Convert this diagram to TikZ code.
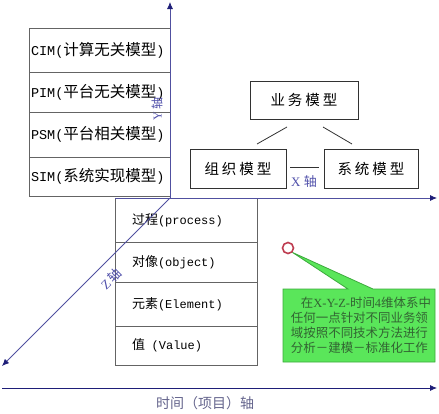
\documentclass[tikz,border=0pt]{standalone}
\usepackage{fontspec}
\setmainfont{Liberation Serif}
\newfontfamily\cjk{Noto Sans CJK SC}
\newfontfamily\mono{Liberation Mono}
\usetikzlibrary{arrows.meta}
\definecolor{axisline}{RGB}{80,80,160}
\definecolor{axistip}{RGB}{30,30,120}
\definecolor{axislabel}{RGB}{80,80,170}
\definecolor{timelabel}{RGB}{100,100,140}
\definecolor{tableline}{RGB}{100,100,100}
\definecolor{boxline}{RGB}{50,50,50}
\definecolor{notefill}{RGB}{90,230,90}
\definecolor{noteline}{RGB}{60,170,60}
\definecolor{notetext}{RGB}{50,100,50}
\definecolor{ringred}{RGB}{190,60,80}
\newcommand\um[1]{{\fontsize{13.5}{16}\mono #1}}
\newcommand\uc[1]{{\fontsize{15.5}{18}\cjk #1}}
\newcommand\lm[1]{{\fontsize{12}{15}\mono #1}}
\newcommand\lc[1]{{\fontsize{13}{15}\cjk #1}}
\begin{document}
\begin{tikzpicture}[x=1pt,y=-1pt,
  uprow/.style={draw=tableline, line width=0.8pt, minimum width=141pt,
    text width=137pt, inner xsep=2pt, inner ysep=0pt, align=left},
  lowrow/.style={draw=tableline, line width=0.8pt, minimum width=142pt,
    text width=108pt, inner xsep=17pt, inner ysep=0pt, align=left},
  bizbox/.style={draw=boxline, line width=0.8pt, minimum height=38pt,
    inner sep=0pt, font=\fontsize{14.5}{16}\cjk},
  axis/.style={axisline, line width=0.8pt,
    -{Latex[length=7pt,width=6pt,color=axistip]}},
  plainline/.style={draw=boxline, line width=0.8pt},
  axislbl/.style={text=axislabel, inner sep=0pt}]
\useasboundingbox (0,0) rectangle (439,413);

% upper table
\node[uprow, minimum height=44pt] (cim) at (99.5,50) {\um{CIM(}\uc{计算无关模型}\um{)}};
\node[uprow, minimum height=40pt] (pim) at (99.5,92) {\um{PIM(}\uc{平台无关模型}\um{)}};
\node[uprow, minimum height=45pt] (psm) at (99.5,134.5) {\um{PSM(}\uc{平台相关模型}\um{)}};
\node[uprow, minimum height=39pt] (sim) at (99.5,176.5) {\um{SIM(}\uc{系统实现模型}\um{)}};

% lower table
\node[lowrow, minimum height=44pt] (proc) at (186,220) {\lc{过程}\lm{(process)}};
\node[lowrow, minimum height=40pt] (obj) at (186,262) {\lc{对像}\lm{(object)}};
\node[lowrow, minimum height=44pt] (elem) at (186,304) {\lc{元素}\lm{(Element)}};
\node[lowrow, minimum height=39pt] (val) at (186,345.5) {\lc{值}\lm{~~(Value)}};

% business model boxes
\node[bizbox, minimum width=108pt] (biz) at (304,100) {业\hspace{3pt}务\hspace{3pt}模\hspace{3pt}型};
\node[bizbox, minimum width=96pt, minimum height=39pt] (org) at (238,168.5) {组\hspace{3pt}织\hspace{3pt}模\hspace{3pt}型};
\node[bizbox, minimum width=94pt, minimum height=39pt] (sys) at (371,168.5) {系\hspace{3pt}统\hspace{3pt}模\hspace{3pt}型};
\coordinate (l1a) at (287,127); \coordinate (l1b) at (257,144);
\coordinate (l2a) at (323,127); \coordinate (l2b) at (352,144);
\coordinate (l3a) at (290,167); \coordinate (l3b) at (319,167);
\draw[plainline] (l1a) -- (l1b);
\draw[plainline] (l2a) -- (l2b);
\draw[plainline] (l3a) -- (l3b);
\node[axislbl, font=\fontsize{13}{15}\selectfont] (xlbl) at (304,182) {X {\cjk 轴}};

% axes
\coordinate (O) at (170,198);
\coordinate (ytop) at (170,2);
\coordinate (zend) at (2,366);
\coordinate (xstart) at (115,198);
\coordinate (xend) at (437,198);
\coordinate (tstart) at (2,388);
\coordinate (tend) at (437,388);
\draw[axis] (O) -- (ytop);
\draw[axis] (O) -- (zend);
\draw[axis] (xstart) -- (xend);
\draw[axis, draw=axistip] (tstart) -- (tend);
\node[axislbl, rotate=90, font=\fontsize{12}{14}\selectfont] (ylbl) at (157,109) {Y\hspace{2pt}{\cjk 轴}};
\node[axislbl, rotate=45, font=\fontsize{13}{15}\selectfont] (zlbl) at (111,279) {Z\hspace{2pt}{\cjk 轴}};
\node[text=timelabel, inner sep=0pt, font=\fontsize{14}{16}\cjk] (tlbl) at (205,403) {时间（项目）轴};

% callout
\node[circle, minimum size=12pt, inner sep=0pt] (ring) at (288,248) {};
\draw[noteline, fill=notefill, line width=0.8pt, line join=miter]
  (283,289) -- (348,289) -- (ring.south east) -- (373,289) -- (435,289)
  -- (435,362) -- (283,362) -- cycle;
\draw[ringred, line width=1.6pt] (ring) circle (5.5pt);
\node[text=notetext, align=left, inner sep=0pt,
  font=\fontsize{12.45}{15}\cjk] (note) at (361,325)
  {\hspace{10pt}在{\rmfamily X-Y-Z-}时间{\rmfamily 4}维体系中\\
   任何一点针对不同业务领\\
   域按照不同技术方法进行\\
   分析－建模－标准化工作};
\end{tikzpicture}
\end{document}
